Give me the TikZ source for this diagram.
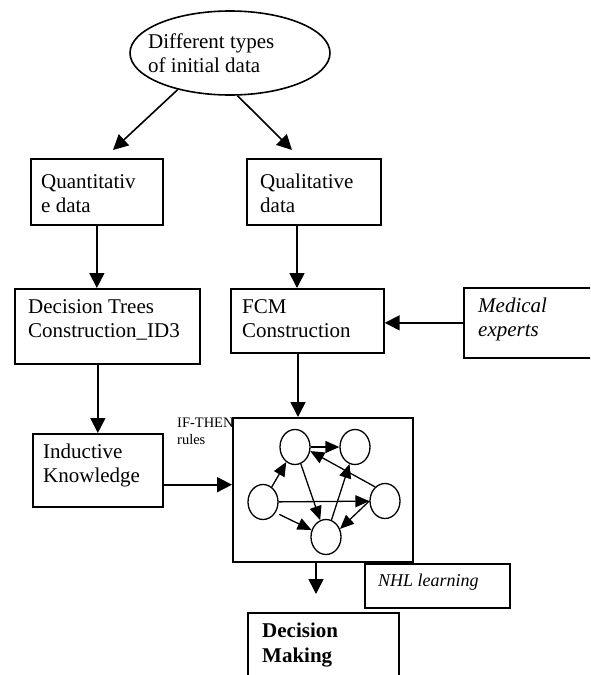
\documentclass[tikz,border=0pt]{standalone}
\usepackage{fontspec}
\setmainfont{Liberation Serif}
\usepackage{tikz}
\usetikzlibrary{arrows.meta, calc, shapes.geometric}

\begin{document}
\begin{tikzpicture}[x=1pt, y=-1pt,
  blk/.style={draw, line width=1.7pt, anchor=north west, inner sep=0pt},
  txt/.style={anchor=north west, align=left, inner sep=0pt, font=\fontsize{21}{24}\selectfont},
  arr/.style={-{Triangle[length=15pt,width=15pt]}, line width=1.6pt},
  cnode/.style={draw, ellipse, minimum width=30pt, minimum height=35pt, inner sep=0pt, line width=1.3pt},
  garr/.style={-{Triangle[length=14pt,width=12pt]}, line width=1.3pt}]
\useasboundingbox (0,0) rectangle (590,675);
\clip (0,0) rectangle (590,675);

\node[draw, ellipse, line width=1.6pt, minimum width=200pt, minimum height=84pt] (src) at (230,53) {};
\node[txt] at ([shift={(-82,-19)}]src.center) {Different types\\of initial data};

\node[blk, minimum width=132pt, minimum height=66pt] (quant) at (30,158) {};
\node[txt] at ([shift={(11,16)}]quant.north west) {Quantitativ\\e data};
\node[blk, minimum width=134pt, minimum height=66pt] (qual) at (246,158) {};
\node[txt] at ([shift={(14,16)}]qual.north west) {Qualitative\\data};

\node[blk, minimum width=185pt, minimum height=75pt] (dt) at (14,288) {};
\node[txt] at ([shift={(14,11)}]dt.north west) {Decision Trees\\Construction\_ID3};
\node[blk, minimum width=153pt, minimum height=64pt] (fcm) at (230,288) {};
\node[txt] at ([shift={(12,11)}]fcm.north west) {FCM\\Construction};
\node[blk, minimum width=200pt, minimum height=70pt] (med) at (463,287) {};
\node[txt, font=\fontsize{21}{24}\selectfont\itshape] at ([shift={(15,11)}]med.north west) {Medical\\experts};

\node[blk, minimum width=130pt, minimum height=73pt] (ind) at (32,433) {};
\node[txt] at ([shift={(11,11)}]ind.north west) {Inductive\\Knowledge};

\node[txt, font=\fontsize{14.5}{17}\selectfont] (rules) at (177,418) {IF-THEN\\rules};
\node[blk, minimum width=180pt, minimum height=144pt] (big) at (232,417) {};

\node[blk, minimum width=145pt, minimum height=44pt] (nhl) at (364,563) {};
\node[txt, font=\fontsize{18}{20}\selectfont\itshape] at ([shift={(14,11)}]nhl.north west) {NHL learning};
\node[blk, minimum width=151pt, minimum height=100pt] (dm) at (247,612) {};
\node[txt, font=\fontsize{21}{25}\selectfont\bfseries] at ([shift={(15,11)}]dm.north west) {Decision\\Making};

% small FCM graph
\node[cnode] (n1) at (295,447) {};
\node[cnode] (n2) at (355,447) {};
\node[cnode] (n3) at (263,502) {};
\node[cnode] (n4) at (385,501) {};
\node[cnode] (n5) at (326,537) {};
\foreach \a/\b in {n3/n1, n1/n2, n1/n5, n5/n2, n3/n4} {
  \draw[garr] (\a) -- (\b);
}
\draw[garr] (n4.125) -- (n1.-15);
\draw[garr, shorten <=4pt] (n3.-40) -- (n5);
\draw[garr] (n4.west) -- (n5.30);

% connectors
\coordinate (quant-in) at (113,150);
\coordinate (qual-in) at (292,150);
\draw[arr] (src.215) -- (quant-in);
\draw[arr] (src.280) -- (qual-in);
\draw[arr] (quant.south) -- (quant.south |- dt.north);
\coordinate (qual-out) at ([xshift=51pt]qual.south west);
\draw[arr] (qual-out) -- (qual-out |- fcm.north);
\draw[arr] (med.west) -- (med.west -| fcm.east);
\draw[arr] (dt.south -| ind.north) -- (ind.north);
\coordinate (fcm-out) at ([xshift=68pt]fcm.south west);
\draw[arr] (fcm-out) -- (fcm-out |- big.north);
\coordinate (ind-out) at ([yshift=23pt]ind.south east);
\draw[arr] (ind-out) -- (ind-out -| big.west);
\coordinate (dm-in) at (316,594);
\draw[arr] (big.south -| dm-in) -- (dm-in);
\end{tikzpicture}
\end{document}
